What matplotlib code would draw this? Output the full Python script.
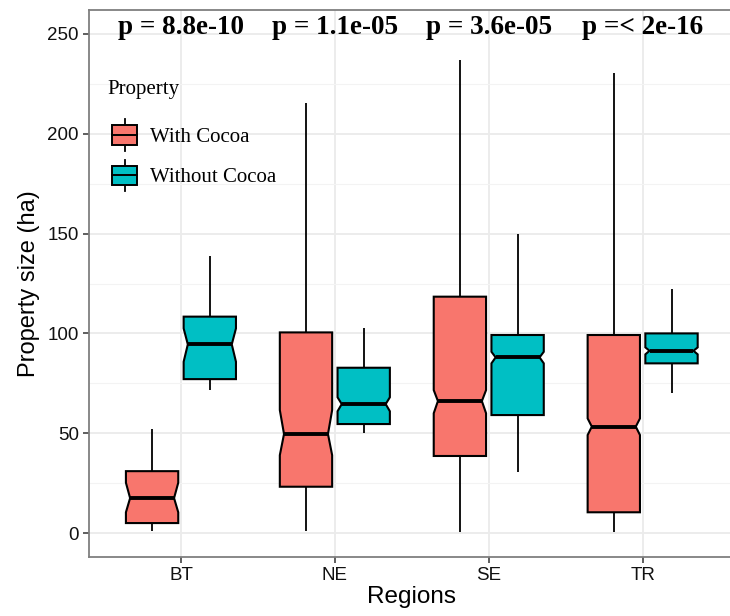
import matplotlib
matplotlib.use("Agg")
import matplotlib.pyplot as plt
from matplotlib.patches import Polygon, Rectangle
from matplotlib.lines import Line2D
from matplotlib.legend_handler import HandlerBase
from matplotlib.ticker import MultipleLocator

regions = ['BT', 'NE', 'SE', 'TR']
groups = ['With Cocoa', 'Without Cocoa']
colors = ['#F8766D', '#00BFC4']
pvals = ['p = 8.8e-10', 'p = 1.1e-05', 'p = 3.6e-05', 'p =< 2e-16']

# box statistics (ha)
with_lo = [1, 1, 0.5, 0.5]
with_q1 = [5, 23.2, 38.6, 10.4]
with_cilo = [10.4, 39, 60, 49.1]
with_med = [17.5, 49.6, 66.1, 53.3]
with_cihi = [25.2, 61.6, 71.6, 57.4]
with_q3 = [31, 100.5, 118.4, 99.2]
with_hi = [52, 215.5, 237, 230.5]

without_lo = [71.6, 50.3, 30.6, 70]
without_q1 = [77.1, 54.6, 59.1, 85]
without_cilo = [85.8, 61, 85, 89.5]
without_med = [94.5, 64.6, 88, 91.3]
without_cihi = [102.5, 68, 90.8, 93]
without_q3 = [108.4, 82.8, 99.2, 100]
without_hi = [139, 102.9, 150, 122]

stats = [
    (with_lo, with_q1, with_cilo, with_med, with_cihi, with_q3, with_hi),
    (without_lo, without_q1, without_cilo, without_med, without_cihi, without_q3, without_hi),
]

fig = plt.figure(figsize=(7.3, 6.16), dpi=100)
ax = fig.add_axes([88.6 / 730, 59 / 616, 646.4 / 730, 547 / 616])

box_w = 0.34
offsets = [-0.1875, 0.1875]
notch_in = 0.08 * box_w


def draw_box(pos, lo, q1, cilo, med, cihi, q3, hi, fc):
    l, r = pos - box_w / 2, pos + box_w / 2
    ax.plot([pos, pos], [q3, hi], color='black', lw=1.3, zorder=3, solid_capstyle='butt')
    ax.plot([pos, pos], [lo, q1], color='black', lw=1.3, zorder=3, solid_capstyle='butt')
    verts = [(l, q1), (r, q1), (r, cilo), (r - notch_in, med), (r, cihi), (r, q3),
             (l, q3), (l, cihi), (l + notch_in, med), (l, cilo)]
    ax.add_patch(Polygon(verts, closed=True, facecolor=fc, edgecolor='black', lw=1.5, zorder=4))
    ax.plot([l + notch_in, r - notch_in], [med, med], color='black', lw=2.8, zorder=5,
            solid_capstyle='butt')


for g in range(2):
    s = stats[g]
    for i in range(len(regions)):
        draw_box(i + 1 + offsets[g], *[a[i] for a in s], colors[g])

for i, p in enumerate(pvals):
    ax.text(i + 1, 253, p, ha='center', va='center', fontsize=19.5, fontweight='bold',
            family='Liberation Serif', zorder=6)

ax.set_xlim(0.4, 4.6)
ax.set_ylim(-12, 262)
ax.set_xticks(range(1, len(regions) + 1))
ax.set_xticklabels(regions)
ax.yaxis.set_major_locator(MultipleLocator(50))
ax.yaxis.set_minor_locator(MultipleLocator(25))
ax.tick_params(axis='both', which='major', length=4, width=1.1, color='#333333',
               labelsize=13.5, labelcolor='#111111', pad=3)
ax.tick_params(axis='y', which='minor', length=0)
for lab in ax.get_xticklabels() + ax.get_yticklabels():
    lab.set_family('Liberation Sans')

ax.grid(True, which='major', color='#ebebeb', lw=1.3, zorder=0)
ax.grid(True, which='minor', axis='y', color='#f3f3f3', lw=0.8, zorder=0)
ax.set_axisbelow(True)
for sp in ax.spines.values():
    sp.set_color('#7f7f7f')
    sp.set_linewidth(1.3)

ax.set_xlabel('Regions', fontsize=17.5, family='Liberation Sans', labelpad=2)
ax.set_ylabel('Property size (ha)', fontsize=17, family='Liberation Sans', labelpad=5)


class BoxHandler(HandlerBase):
    # small boxplot glyph, inset a little from the left like ggplot keys
    def create_artists(self, legend, orig_handle, xdescent, ydescent, width, height,
                       fontsize, trans):
        fc = orig_handle.get_facecolor()
        inset = 3.6
        x0 = -xdescent + inset
        x1 = -xdescent + width
        y0 = -ydescent
        xc = (x0 + x1) / 2
        ym = y0 + height / 2
        bh = height * 0.62
        w1 = Line2D([xc, xc], [y0, ym - bh / 2], color='black', lw=1.3, transform=trans)
        w2 = Line2D([xc, xc], [ym + bh / 2, y0 + height], color='black', lw=1.3, transform=trans)
        rect = Rectangle((x0, ym - bh / 2), x1 - x0, bh, facecolor=fc, edgecolor='black',
                         lw=1.4, transform=trans)
        med = Line2D([x0, x1], [ym, ym], color='black', lw=1.4, transform=trans)
        return [w1, w2, rect, med]


handles = [Rectangle((0, 0), 1, 1, facecolor=c) for c in colors]
leg = ax.legend(handles, groups, title='Property', loc='upper left',
                bbox_to_anchor=(97 / 730, 1 - 70 / 616), bbox_transform=fig.transFigure,
                frameon=False, borderpad=0, handler_map={Rectangle: BoxHandler()},
                handlelength=1.4, handleheight=1.95, labelspacing=0.42, handletextpad=0.65,
                alignment='left', prop={'family': 'Liberation Serif', 'size': 15},
                title_fontproperties={'family': 'Liberation Serif', 'size': 15})
leg._legend_box.sep = 15 * 0.42 + 8.0

fig.savefig('out.png', dpi=100)
